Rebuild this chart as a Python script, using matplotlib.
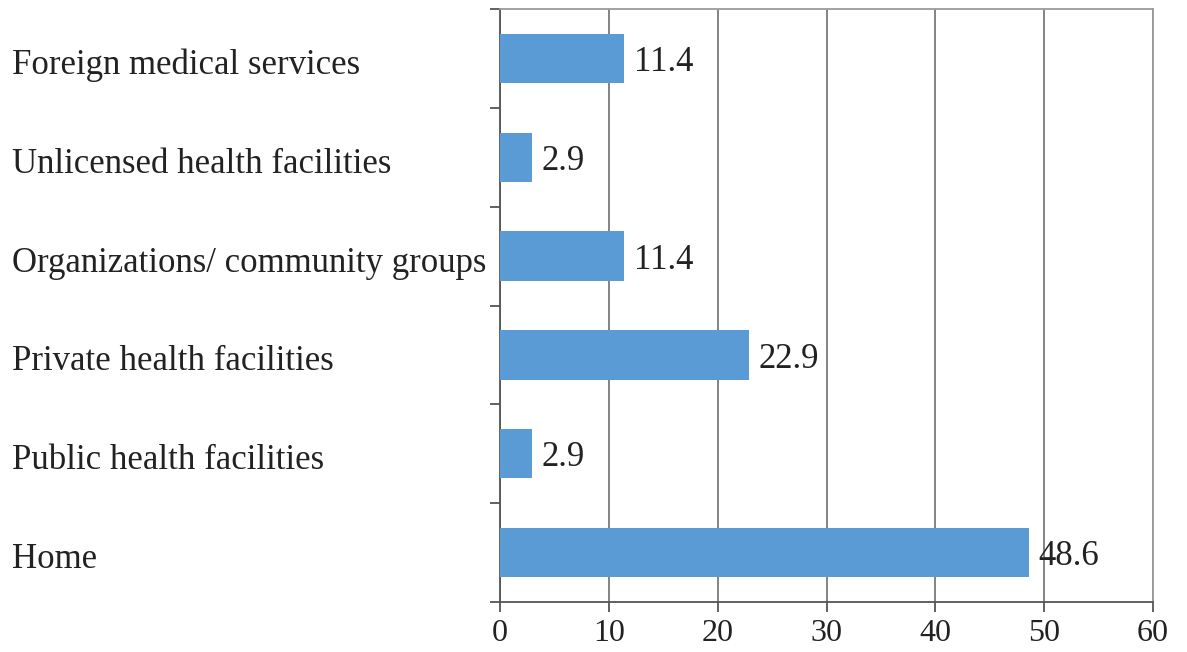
import matplotlib
matplotlib.use("Agg")
import matplotlib.pyplot as plt
import matplotlib.transforms as mtransforms
import numpy as np

categories = [
    "Home",
    "Public health facilities",
    "Private health facilities",
    "Organizations/ community groups",
    "Unlicensed health facilities",
    "Foreign medical services",
]
values = [48.6, 2.9, 22.9, 11.4, 2.9, 11.4]
x_ticks = [0, 10, 20, 30, 40, 50, 60]

plt.rcParams["font.family"] = ["Liberation Serif", "DejaVu Serif"]
FS = 25

fig = plt.figure(figsize=(11.87, 6.52), dpi=100)
ax = fig.add_axes([500 / 1187, 50 / 652, 653 / 1187, 593 / 652])

ypos = np.arange(len(categories))
bar_color = "#5B9BD5"
ax.barh(ypos, values, height=0.5, color=bar_color, zorder=3)

for y, v in zip(ypos, values):
    ax.annotate(f"{v:.1f}", xy=(v, y), xytext=(7, -3), textcoords="offset points",
                ha="left", va="center", fontsize=FS, color="#222222", zorder=4)

ax.set_xlim(0, 60)
ax.set_ylim(-0.5, len(categories) - 0.5)

grid_color = "#7a7a7a"
ax.set_xticks(x_ticks)
ax.set_xticklabels([str(t) for t in x_ticks], fontsize=23, color="#222222")
ax.xaxis.grid(True, color=grid_color, linewidth=1.3, zorder=1)
ax.tick_params(axis="x", direction="out", length=7, width=1.3, color="#555555", pad=5)

ax.set_yticks(ypos)
ax.set_yticklabels(categories, fontsize=FS, color="#222222", ha="left", va="center")
ax.tick_params(axis="y", which="major", length=0, pad=351)
shift = mtransforms.ScaledTranslation(0, -5 / 72, fig.dpi_scale_trans)
for lbl in ax.get_yticklabels():
    lbl.set_transform(lbl.get_transform() + shift)
ax.set_yticks(np.arange(-0.5, len(categories)), minor=True)
ax.tick_params(axis="y", which="minor", direction="out", length=7, width=1.3, color="#555555")

for side in ["left", "bottom"]:
    ax.spines[side].set_color("#555555")
    ax.spines[side].set_linewidth(1.3)
for side in ["top", "right"]:
    ax.spines[side].set_color("#9a9a9a")
    ax.spines[side].set_linewidth(1.3)

fig.savefig("out.png", dpi=100)
